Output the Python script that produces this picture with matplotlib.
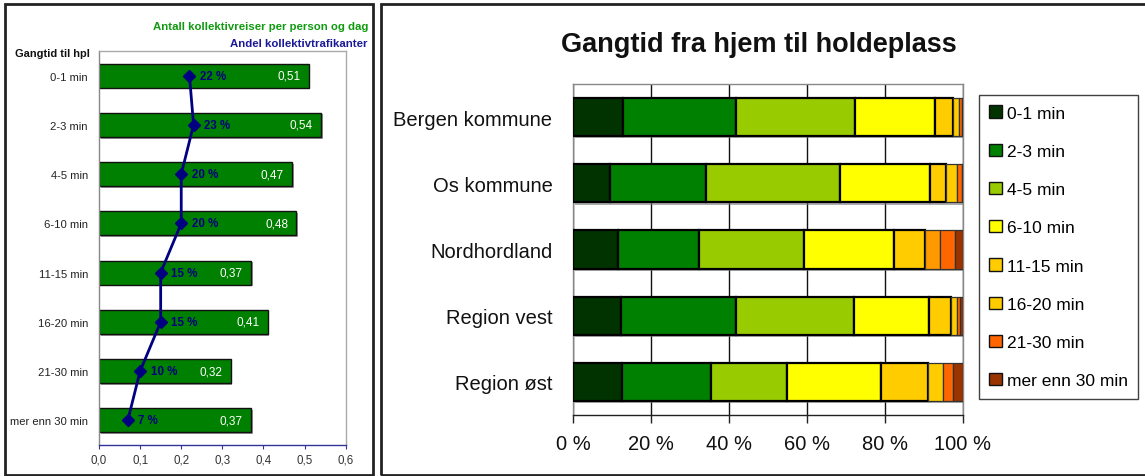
import matplotlib
matplotlib.use("Agg")
import matplotlib.pyplot as plt
import matplotlib.patheffects as pe
from matplotlib.patches import Rectangle, Patch
from matplotlib.ticker import FixedLocator, FuncFormatter

# ---------------- data ----------------
walk_categories = ['0-1 min', '2-3 min', '4-5 min', '6-10 min',
                   '11-15 min', '16-20 min', '21-30 min', 'mer enn 30 min']
trips_per_person = [0.51, 0.54, 0.47, 0.48, 0.37, 0.41, 0.32, 0.37]
share_pct = [22, 23, 20, 20, 15, 15, 10, 7]
left_xticks = [0.0, 0.1, 0.2, 0.3, 0.4, 0.5, 0.6]

regions = ['Bergen kommune', 'Os kommune', 'Nordhordland', 'Region vest', 'Region øst']
series_names = ['0-1 min', '2-3 min', '4-5 min', '6-10 min',
                '11-15 min', '16-20 min', '21-30 min', 'mer enn 30 min']
s_0_1 = [12.8, 9.4, 11.6, 12.2, 12.4]
s_2_3 = [29.1, 24.8, 20.7, 29.7, 22.9]
s_4_5 = [30.5, 34.3, 26.9, 30.1, 19.6]
s_6_10 = [20.4, 23.1, 23.1, 19.3, 24.0]
s_11_15 = [4.8, 4.1, 7.9, 5.6, 12.1]
s_16_20 = [1.5, 2.8, 4.0, 1.7, 4.0]
s_21_30 = [0.6, 1.3, 3.8, 0.7, 2.6]
s_30p = [0.3, 0.2, 2.0, 0.7, 2.4]
series_values = [s_0_1, s_2_3, s_4_5, s_6_10, s_11_15, s_16_20, s_21_30, s_30p]
series_colors = ['#003300', '#008000', '#99CC00', '#FFFF00',
                 '#FFCC00', '#FFCC00', '#FF6600', '#993300']
right_xticks = [0, 20, 40, 60, 80, 100]

W, H = 1145, 477
fig = plt.figure(figsize=(W / 100, H / 100), dpi=100)
fig.patch.set_facecolor('white')

SANS = ['Liberation Sans', 'DejaVu Sans']


def fx(px):
    return px / W


def fy(py):
    return 1 - py / H


# panel frames
fig.add_artist(Rectangle((fx(5), fy(476)), fx(368), (471) / H, transform=fig.transFigure,
                         fill=False, edgecolor='#222222', linewidth=2.0))
fig.add_artist(Rectangle((fx(381), fy(476)), fx(770), (471) / H, transform=fig.transFigure,
                         fill=False, edgecolor='#222222', linewidth=2.0))

# ---------------- left panel ----------------
axL = fig.add_axes([fx(99), fy(446), fx(246.7), 394 / H])
ypos = list(range(len(walk_categories)))
shadow = [pe.SimplePatchShadow(offset=(1.2, -1.2), shadow_rgbFace='#555555', alpha=0.6), pe.Normal()]
bars = axL.barh(ypos, trips_per_person, height=0.49, color='#008000',
                edgecolor='#111111', linewidth=1.0, zorder=2)
for b in bars:
    b.set_path_effects(shadow)
share_frac = [p / 100 for p in share_pct]
axL.plot(share_frac, ypos, color='#000080', linewidth=2.0, marker='D',
         markersize=6, zorder=4)
for y, v, p in zip(ypos, trips_per_person, share_pct):
    axL.text(v - 0.02, y, f"{v:.2f}".replace('.', ','), ha='right', va='center',
             color='white', fontsize=8.5, family=SANS, zorder=5)
    axL.text(p / 100 + 0.026, y, f"{p} %", ha='left', va='center',
             color='#000080', fontsize=8.3, fontweight='bold', family=SANS, zorder=5)
axL.set_xlim(0, 0.6)
axL.set_ylim(len(walk_categories) - 0.5, -0.5)
axL.set_yticks(ypos)
axL.set_yticklabels(walk_categories, family=SANS, fontsize=8.1, color='#222222')
axL.tick_params(axis='y', length=0, pad=8)
axL.xaxis.set_major_locator(FixedLocator(left_xticks))
axL.xaxis.set_major_formatter(FuncFormatter(lambda v, _: f"{v:.1f}".replace('.', ',')))
axL.tick_params(axis='x', length=3, color='#333399', labelsize=8.3, labelcolor='#333333', pad=3)
for lbl in axL.get_xticklabels():
    lbl.set_family(SANS)
for s in ['top', 'right']:
    axL.spines[s].set_color('#aaaaaa')
axL.spines['left'].set_color('#888888')
axL.spines['bottom'].set_color('#333399')
for s in axL.spines.values():
    s.set_linewidth(1.0)

fig.text(fx(368), fy(30), 'Antall kollektivreiser per person og dag', ha='right', va='baseline',
         color='#109a10', fontsize=8.2, fontweight='bold', family=SANS)
fig.text(fx(368), fy(46.7), 'Andel kollektivtrafikanter', ha='right', va='baseline',
         color='#1a1a99', fontsize=8.2, fontweight='bold', family=SANS)
fig.text(fx(90), fy(56.7), 'Gangtid til hpl', ha='right', va='baseline',
         color='#111111', fontsize=7.9, fontweight='bold', family=SANS)

# ---------------- right panel ----------------
axR = fig.add_axes([fx(573.3), fy(416), fx(389.4), 331 / H])
rpos = list(range(len(regions)))
left = [0.0] * len(regions)
for i, (name, vals, col) in enumerate(zip(series_names, series_values, series_colors)):
    cols = [col] * len(regions)
    if name == '16-20 min':
        cols[regions.index('Nordhordland')] = '#FF9900'
    lw = 1.6 if i < 5 else 0.9
    ec = '#000000' if i < 5 else '#333333'
    bb = axR.barh(rpos, vals, left=left, height=0.58, color=cols,
                  edgecolor=ec, linewidth=lw, zorder=3)
    for b in bb:
        b.set_path_effects([pe.SimplePatchShadow(offset=(1.5, -1.5), shadow_rgbFace='#777777', alpha=0.6),
                            pe.Normal()])
    left = [l + v for l, v in zip(left, vals)]

axR.set_xlim(0, 100)
axR.set_ylim(len(regions) - 0.5, -0.5)
axR.xaxis.set_major_locator(FixedLocator(right_xticks))
axR.xaxis.set_major_formatter(FuncFormatter(lambda v, _: f"{int(round(v))} %"))
axR.grid(axis='x', color='#111111', linewidth=1.0, zorder=0)
axR.set_axisbelow(True)
axR.set_yticks(rpos)
axR.set_yticklabels(regions, family=SANS, fontsize=14.5, color='#111111')
axR.tick_params(axis='y', length=0, pad=15)
axR.tick_params(axis='x', length=6, width=1.0, color='#222222', pad=8,
                labelsize=14.5, labelcolor='#111111')
for lbl in axR.get_xticklabels():
    lbl.set_family(SANS)
for s in ['top', 'left', 'right']:
    axR.spines[s].set_color('#888888')
    axR.spines[s].set_linewidth(1.0)
axR.spines['bottom'].set_color('#222222')
axR.spines['bottom'].set_linewidth(1.0)

fig.text(fx(759), fy(52), 'Gangtid fra hjem til holdeplass', ha='center', va='baseline',
         fontsize=19.5, fontweight='bold', family=SANS, color='#111111')

handles = [Patch(facecolor=c, edgecolor='#111111', linewidth=1.0) for c in series_colors]
leg = fig.legend(handles, series_names, loc='upper left',
                 bbox_to_anchor=(fx(979), fy(96)), bbox_transform=fig.transFigure,
                 frameon=True, fancybox=False, shadow=False, borderaxespad=0,
                 prop={'family': SANS, 'size': 12.5}, handlelength=0.7, handleheight=0.7,
                 handletextpad=0.3, labelspacing=1.33, borderpad=0.6)
leg.get_frame().set_edgecolor('#111111')
leg.get_frame().set_linewidth(1.0)

fig.savefig('out.png', dpi=100)
